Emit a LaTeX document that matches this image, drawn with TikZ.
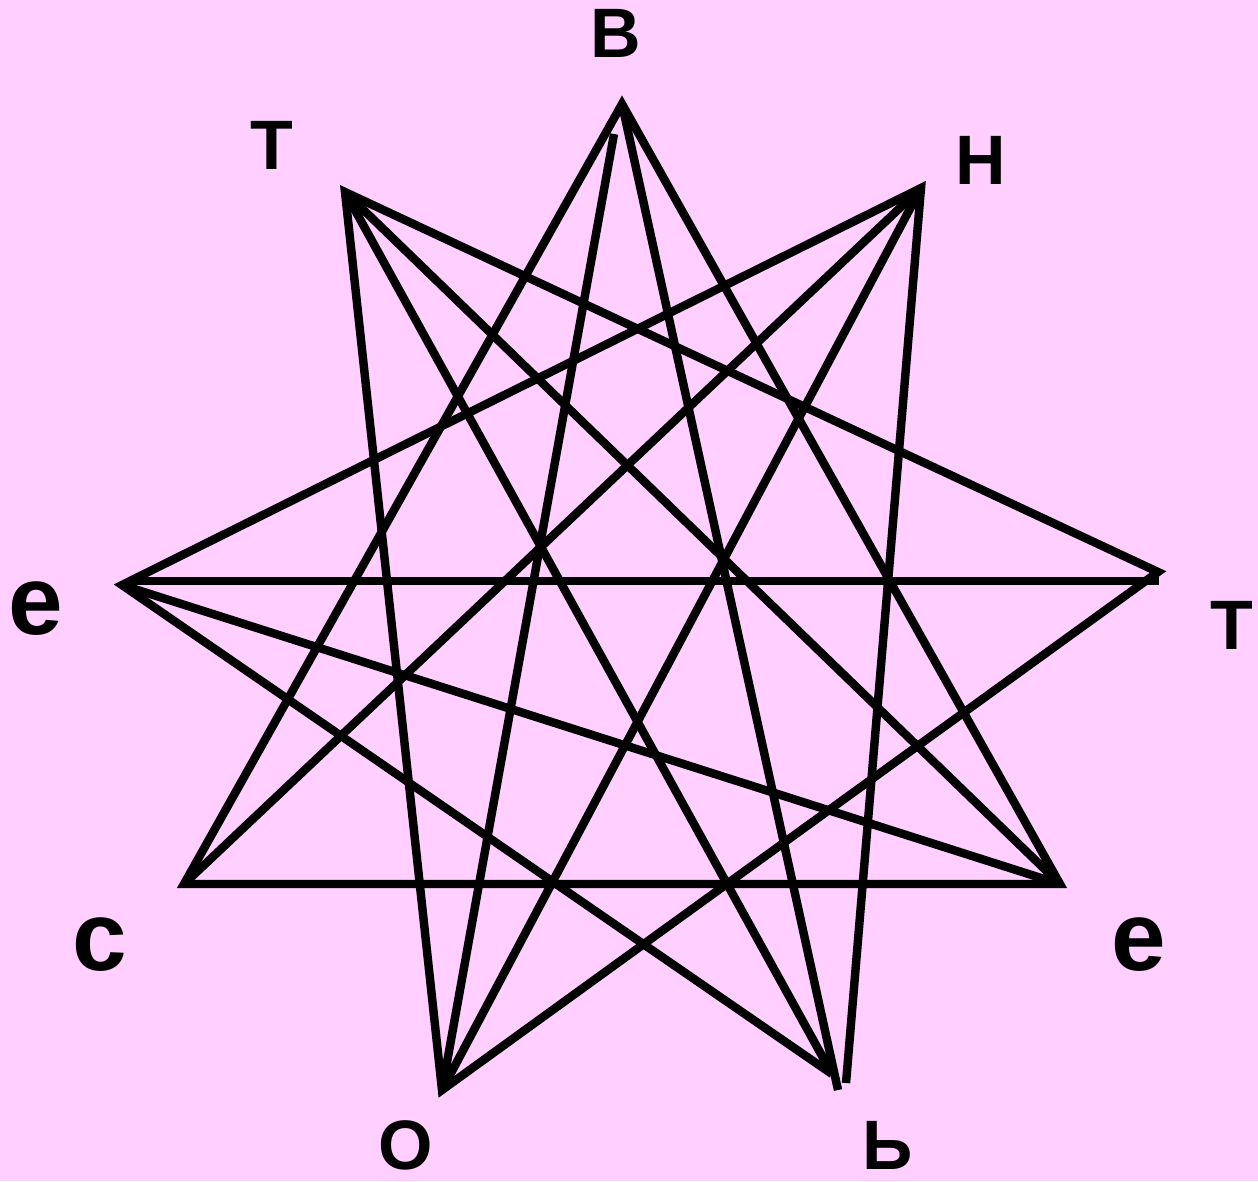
\documentclass[tikz,border=0pt]{standalone}
\usepackage{fontspec}
\setmainfont{Liberation Sans}
\definecolor{bgpink}{RGB}{255,208,255}

\begin{document}
\begin{tikzpicture}[x=0.01cm,y=-0.01cm,line width=2.4pt,line join=miter,
    bigletter/.style={font=\bfseries\fontsize{19.9pt}{20pt}\selectfont,inner sep=0pt},
    smallletter/.style={font=\bfseries\fontsize{27.9pt}{28pt}\selectfont,inner sep=0pt}]
    % Background and page size
    \fill[bgpink] (0,0) rectangle (1258,1181);
    \useasboundingbox (0,0) rectangle (1258,1181);

    % Define the nine star points, clockwise from the top
    \coordinate (v)  at (622,104);
    \coordinate (vo) at (614,134);
    \coordinate (n)  at (921,188);
    \coordinate (tr) at (1158,572);
    \coordinate (trh) at (1159,581);
    \coordinate (er) at (1060,884);
    \coordinate (bv) at (838,1090);
    \coordinate (bn) at (846,1083);
    \coordinate (bl) at (832,1074);
    \coordinate (o)  at (442,1090);
    \coordinate (s)  at (184,884);
    \coordinate (el) at (122,585);
    \coordinate (elh) at (130,581);
    \coordinate (tl) at (345,192);

    % Letters round the star
    \node[bigletter]   (lv)  at (616,33)   {В};
    \node[bigletter]   (ln)  at (981,160)  {Н};
    \node[bigletter]   (ltr) at (1232,625) {Т};
    \node[smallletter] (ler) at (1139,945) {е};
    \node[bigletter]   (lb)  at (888,1145) {Ь};
    \node[bigletter]   (lo)  at (406,1145) {О};
    \node[smallletter] (ls)  at (100,945)  {с};
    \node[smallletter] (lel) at (36,609)   {е};
    \node[bigletter]   (ltl) at (272,145)  {Т};

    % Three triangles
    \draw (v) -- (er) -- (s) -- cycle;
    \draw (bl) -- (el) -- (n) -- (bn);
    \draw (tl) -- (tr) -- (o) -- cycle;

    % The other lines
    \draw (vo) -- (o);
    \draw (v) -- (bv);
    \draw (n) -- (o);
    \draw (n) -- (s);
    \draw (tl) -- (bl);
    \draw (tl) -- (er);
    \draw (el) -- (er);
    \draw (elh) -- (trh);
\end{tikzpicture}
\end{document}
